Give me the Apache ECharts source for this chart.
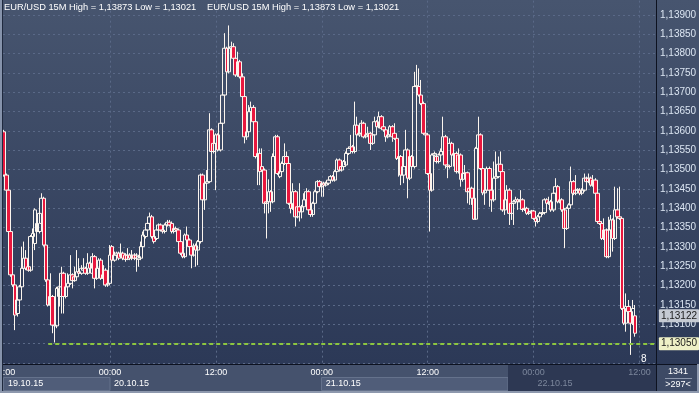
<!DOCTYPE html>
<html><head><meta charset="utf-8">
<script src="https://cdn.jsdelivr.net/npm/echarts@6/dist/echarts.min.js"></script>
<style>html,body{margin:0;padding:0;background:#2b3856;}#c{width:699px;height:393px;}</style>
</head><body><div id="c"></div>
<script>
// ---- data ----
const dayLabels = ['19.10.15','20.10.15','21.10.15','22.10.15'];
const startMinutes = 12 * 60;   // first bar: 19.10.15 12:00
const barMinutes = 15;
const slotCount = 296;          // visible bar slots
const headerText = 'EUR/USD 15M High = 1,13873 Low = 1,13021';
const levelPrice = 1.13050, levelStartIdx = 20;
const lastPrice = 1.13122;
const barCountText = '1341', visibleText = '>297<', shiftText = '8';

const openP = [
1.13598,1.13486,1.13447,1.13340,1.13228,1.13202,1.13128,1.13163,1.13197,1.13245,
1.13271,1.13249,1.13240,1.13327,1.13309,1.13340,1.13340,1.13361,1.13426,1.13305,
1.13215,1.13150,1.13172,1.13098,1.13096,1.13172,1.13172,1.13232,1.13172,1.13197,
1.13206,1.13228,1.13213,1.13223,1.13236,1.13232,1.13240,1.13245,1.13232,1.13258,
1.13232,1.13275,1.13219,1.13245,1.13266,1.13219,1.13240,1.13202,1.13206,1.13301,
1.13266,1.13279,1.13284,1.13275,1.13284,1.13279,1.13268,1.13279,1.13271,1.13279,
1.13271,1.13268,1.13271,1.13301,1.13327,1.13344,1.13361,1.13378,1.13327,1.13322,
1.13344,1.13357,1.13344,1.13340,1.13357,1.13364,1.13361,1.13340,1.13348,1.13344,
1.13314,1.13284,1.13275,1.13331,1.13318,1.13301,1.13279,1.13303,1.13292,1.13314,
1.13486,1.13422,1.13465,1.13469,1.13603,1.13547,1.13568,1.13590,1.13551,1.13620,
1.13693,1.13814,1.13753,1.13814,1.13818,1.13788,1.13745,1.13779,1.13740,1.13689,
1.13585,1.13598,1.13650,1.13661,1.13624,1.13534,1.13542,1.13508,1.13499,1.13413,
1.13417,1.13443,1.13417,1.13534,1.13585,1.13482,1.13495,1.13516,1.13534,1.13516,
1.13413,1.13400,1.13443,1.13378,1.13404,1.13391,1.13404,1.13422,1.13443,1.13396,
1.13384,1.13413,1.13443,1.13469,1.13456,1.13465,1.13460,1.13465,1.13473,1.13482,
1.13473,1.13495,1.13525,1.13499,1.13508,1.13512,1.13542,1.13555,1.13559,1.13547,
1.13615,1.13590,1.13594,1.13620,1.13585,1.13590,1.13594,1.13568,1.13590,1.13624,
1.13611,1.13637,1.13611,1.13603,1.13585,1.13590,1.13611,1.13594,1.13581,1.13529,
1.13534,1.13486,1.13508,1.13551,1.13478,1.13534,1.13508,1.13715,1.13715,1.13693,
1.13671,1.13594,1.13590,1.13490,1.13447,1.13538,1.13534,1.13521,1.13538,1.13547,
1.13585,1.13512,1.13508,1.13568,1.13538,1.13542,1.13495,1.13538,1.13475,1.13490,
1.13492,1.13443,1.13452,1.13426,1.13372,1.13555,1.13590,1.13503,1.13440,1.13447,
1.13503,1.13447,1.13422,1.13478,1.13482,1.13514,1.13495,1.13396,1.13422,1.13447,
1.13387,1.13413,1.13417,1.13422,1.13417,1.13422,1.13397,1.13400,1.13387,1.13391,
1.13393,1.13374,1.13366,1.13378,1.13387,1.13389,1.13422,1.13413,1.13417,1.13396,
1.13439,1.13456,1.13417,1.13422,1.13396,1.13348,1.13400,1.13409,1.13469,1.13439,
1.13447,1.13447,1.13439,1.13447,1.13478,1.13469,1.13478,1.13460,1.13473,1.13439,
1.13366,1.13361,1.13322,1.13344,1.13275,1.13344,1.13370,1.13322,1.13396,1.13378,
1.13374,1.13141,1.13103,1.13146,1.13133,1.13103,1.13122];

const closeP = [
1.13486,1.13447,1.13340,1.13228,1.13202,1.13124,1.13163,1.13197,1.13245,1.13271,
1.13245,1.13240,1.13327,1.13335,1.13396,1.13361,1.13387,1.13426,1.13305,1.13215,
1.13150,1.13172,1.13098,1.13096,1.13193,1.13197,1.13232,1.13172,1.13197,1.13206,
1.13228,1.13213,1.13223,1.13236,1.13232,1.13245,1.13245,1.13232,1.13258,1.13245,
1.13275,1.13219,1.13245,1.13266,1.13219,1.13228,1.13202,1.13206,1.13279,1.13266,
1.13279,1.13284,1.13271,1.13284,1.13271,1.13268,1.13279,1.13271,1.13279,1.13271,
1.13279,1.13275,1.13301,1.13331,1.13344,1.13361,1.13378,1.13327,1.13314,1.13344,
1.13357,1.13344,1.13340,1.13357,1.13364,1.13357,1.13340,1.13348,1.13344,1.13314,
1.13284,1.13275,1.13331,1.13318,1.13301,1.13279,1.13303,1.13292,1.13314,1.13486,
1.13422,1.13465,1.13469,1.13603,1.13547,1.13568,1.13590,1.13551,1.13620,1.13693,
1.13814,1.13753,1.13814,1.13818,1.13788,1.13745,1.13779,1.13740,1.13689,1.13585,
1.13598,1.13650,1.13661,1.13624,1.13534,1.13542,1.13495,1.13499,1.13413,1.13417,
1.13443,1.13417,1.13534,1.13585,1.13490,1.13495,1.13516,1.13534,1.13516,1.13413,
1.13400,1.13443,1.13378,1.13404,1.13391,1.13404,1.13422,1.13443,1.13396,1.13384,
1.13413,1.13443,1.13469,1.13456,1.13465,1.13460,1.13465,1.13473,1.13482,1.13473,
1.13495,1.13525,1.13499,1.13508,1.13521,1.13542,1.13555,1.13559,1.13547,1.13615,
1.13590,1.13594,1.13620,1.13585,1.13590,1.13594,1.13568,1.13590,1.13624,1.13611,
1.13637,1.13607,1.13603,1.13585,1.13590,1.13611,1.13585,1.13581,1.13529,1.13534,
1.13486,1.13508,1.13551,1.13478,1.13534,1.13508,1.13715,1.13717,1.13693,1.13671,
1.13594,1.13590,1.13490,1.13447,1.13538,1.13542,1.13521,1.13538,1.13547,1.13585,
1.13512,1.13508,1.13568,1.13538,1.13542,1.13495,1.13538,1.13475,1.13490,1.13492,
1.13443,1.13452,1.13426,1.13372,1.13555,1.13590,1.13503,1.13440,1.13447,1.13503,
1.13447,1.13422,1.13478,1.13482,1.13514,1.13495,1.13396,1.13422,1.13447,1.13387,
1.13413,1.13417,1.13422,1.13417,1.13422,1.13397,1.13400,1.13387,1.13391,1.13393,
1.13374,1.13366,1.13378,1.13387,1.13389,1.13422,1.13413,1.13417,1.13396,1.13439,
1.13456,1.13417,1.13422,1.13396,1.13348,1.13400,1.13409,1.13469,1.13439,1.13447,
1.13449,1.13439,1.13447,1.13478,1.13469,1.13478,1.13460,1.13473,1.13439,1.13366,
1.13361,1.13322,1.13344,1.13275,1.13344,1.13370,1.13322,1.13396,1.13378,1.13374,
1.13141,1.13103,1.13146,1.13133,1.13103,1.13141,1.13077];

const lowP = [
1.13482,1.13443,1.13335,1.13223,1.13197,1.13085,1.13120,1.13159,1.13193,1.13240,
1.13240,1.13236,1.13236,1.13284,1.13292,1.13318,1.13335,1.13357,1.13301,1.13210,
1.13146,1.13146,1.13077,1.13053,1.13090,1.13146,1.13128,1.13128,1.13167,1.13193,
1.13202,1.13193,1.13210,1.13219,1.13228,1.13228,1.13236,1.13228,1.13228,1.13240,
1.13228,1.13193,1.13215,1.13240,1.13215,1.13215,1.13197,1.13197,1.13202,1.13262,
1.13262,1.13275,1.13266,1.13271,1.13266,1.13262,1.13266,1.13266,1.13266,1.13266,
1.13236,1.13249,1.13266,1.13297,1.13322,1.13340,1.13357,1.13322,1.13309,1.13318,
1.13340,1.13340,1.13335,1.13335,1.13353,1.13353,1.13335,1.13335,1.13340,1.13309,
1.13279,1.13271,1.13271,1.13314,1.13297,1.13245,1.13275,1.13249,1.13253,1.13309,
1.13417,1.13396,1.13443,1.13465,1.13542,1.13542,1.13447,1.13547,1.13547,1.13615,
1.13689,1.13749,1.13749,1.13809,1.13784,1.13740,1.13740,1.13736,1.13684,1.13568,
1.13577,1.13594,1.13646,1.13620,1.13529,1.13460,1.13460,1.13495,1.13387,1.13322,
1.13387,1.13391,1.13413,1.13529,1.13486,1.13478,1.13490,1.13512,1.13512,1.13409,
1.13387,1.13396,1.13353,1.13374,1.13366,1.13374,1.13400,1.13417,1.13391,1.13378,
1.13378,1.13409,1.13439,1.13452,1.13430,1.13430,1.13456,1.13460,1.13469,1.13469,
1.13469,1.13490,1.13495,1.13495,1.13503,1.13508,1.13538,1.13551,1.13542,1.13542,
1.13585,1.13585,1.13590,1.13581,1.13581,1.13585,1.13551,1.13564,1.13585,1.13607,
1.13607,1.13603,1.13598,1.13572,1.13581,1.13585,1.13572,1.13577,1.13525,1.13482,
1.13460,1.13465,1.13503,1.13426,1.13473,1.13503,1.13503,1.13706,1.13689,1.13667,
1.13590,1.13551,1.13486,1.13340,1.13443,1.13534,1.13516,1.13516,1.13534,1.13542,
1.13503,1.13478,1.13503,1.13534,1.13508,1.13490,1.13490,1.13456,1.13469,1.13486,
1.13413,1.13409,1.13409,1.13370,1.13370,1.13551,1.13499,1.13434,1.13409,1.13443,
1.13404,1.13391,1.13417,1.13473,1.13478,1.13490,1.13391,1.13383,1.13417,1.13357,
1.13370,1.13357,1.13413,1.13396,1.13413,1.13391,1.13393,1.13383,1.13383,1.13387,
1.13370,1.13353,1.13361,1.13374,1.13383,1.13384,1.13409,1.13409,1.13391,1.13391,
1.13434,1.13413,1.13413,1.13391,1.13297,1.13344,1.13396,1.13404,1.13434,1.13434,
1.13443,1.13434,1.13434,1.13443,1.13465,1.13465,1.13456,1.13456,1.13434,1.13361,
1.13357,1.13318,1.13318,1.13271,1.13271,1.13340,1.13288,1.13318,1.13374,1.13370,
1.13137,1.13098,1.13081,1.13128,1.13021,1.13098,1.13068];

const highP = [
1.13603,1.13490,1.13452,1.13344,1.13236,1.13206,1.13167,1.13202,1.13301,1.13314,
1.13292,1.13258,1.13331,1.13348,1.13400,1.13378,1.13404,1.13439,1.13430,1.13309,
1.13223,1.13232,1.13176,1.13103,1.13197,1.13202,1.13249,1.13236,1.13202,1.13232,
1.13279,1.13232,1.13249,1.13292,1.13271,1.13253,1.13271,1.13249,1.13284,1.13262,
1.13284,1.13279,1.13249,1.13271,1.13271,1.13253,1.13245,1.13210,1.13305,1.13305,
1.13288,1.13288,1.13288,1.13309,1.13288,1.13284,1.13297,1.13284,1.13292,1.13284,
1.13284,1.13279,1.13314,1.13340,1.13348,1.13366,1.13389,1.13383,1.13331,1.13348,
1.13361,1.13361,1.13348,1.13361,1.13370,1.13370,1.13366,1.13357,1.13353,1.13348,
1.13318,1.13288,1.13335,1.13353,1.13322,1.13305,1.13309,1.13309,1.13318,1.13490,
1.13490,1.13469,1.13499,1.13646,1.13607,1.13572,1.13594,1.13594,1.13624,1.13697,
1.13853,1.13818,1.13873,1.13831,1.13827,1.13792,1.13805,1.13784,1.13749,1.13693,
1.13603,1.13667,1.13676,1.13667,1.13628,1.13547,1.13555,1.13555,1.13503,1.13422,
1.13475,1.13447,1.13542,1.13590,1.13590,1.13499,1.13521,1.13568,1.13547,1.13521,
1.13417,1.13465,1.13447,1.13409,1.13465,1.13409,1.13439,1.13452,1.13447,1.13400,
1.13417,1.13447,1.13473,1.13473,1.13469,1.13469,1.13469,1.13478,1.13486,1.13486,
1.13499,1.13529,1.13529,1.13512,1.13525,1.13547,1.13559,1.13590,1.13564,1.13676,
1.13637,1.13598,1.13628,1.13624,1.13594,1.13611,1.13598,1.13594,1.13637,1.13628,
1.13650,1.13641,1.13615,1.13607,1.13594,1.13615,1.13615,1.13620,1.13585,1.13538,
1.13538,1.13512,1.13603,1.13555,1.13538,1.13538,1.13753,1.13771,1.13762,1.13732,
1.13676,1.13598,1.13594,1.13495,1.13542,1.13547,1.13538,1.13542,1.13555,1.13637,
1.13590,1.13516,1.13581,1.13572,1.13547,1.13547,1.13555,1.13542,1.13534,1.13512,
1.13495,1.13456,1.13456,1.13430,1.13559,1.13637,1.13594,1.13508,1.13452,1.13508,
1.13508,1.13452,1.13521,1.13547,1.13534,1.13547,1.13499,1.13426,1.13460,1.13452,
1.13417,1.13422,1.13430,1.13426,1.13447,1.13426,1.13404,1.13404,1.13396,1.13396,
1.13396,1.13378,1.13383,1.13391,1.13393,1.13426,1.13426,1.13430,1.13422,1.13443,
1.13478,1.13460,1.13426,1.13426,1.13400,1.13404,1.13413,1.13508,1.13473,1.13486,
1.13452,1.13452,1.13452,1.13490,1.13482,1.13490,1.13482,1.13486,1.13478,1.13443,
1.13370,1.13366,1.13374,1.13348,1.13378,1.13383,1.13374,1.13456,1.13452,1.13456,
1.13378,1.13180,1.13180,1.13163,1.13137,1.13163,1.13150];

// ---- build ----
function pad(n){ return (n < 10 ? '0' : '') + n; }
const categories = [];
for (let i = 0; i < slotCount; i++) {
  const m = startMinutes + i * barMinutes;
  const d = Math.floor(m / 1440), t = m % 1440;
  categories.push(dayLabels[d] + ' ' + pad(Math.floor(t / 60)) + ':' + pad(t % 60));
}
const candles = openP.map((o, i) => [o, closeP[i], lowP[i], highP[i]]);
const fmt = v => v.toFixed(5).replace('.', ',');
const FONT = 'Liberation Sans';
const dimDay = dayLabels[3];

const chart = echarts.init(document.getElementById('c'), null, {renderer: 'canvas'});
chart.setOption({
  animation: false,
  backgroundColor: {type: 'linear', x: 0, y: 0, x2: 0, y2: 1, colorStops: [
    {offset: 0, color: '#47556f'}, {offset: 0.92, color: '#2c3957'}, {offset: 1, color: '#2c3957'}]},
  grid: {left: 3, right: 43, top: -4.333, bottom: 30, containLabel: false, outerBoundsMode: 'none'},
  xAxis: [{
    type: 'category', data: categories, boundaryGap: true,
    axisLine: {show: false}, axisTick: {show: false},
    axisLabel: {
      interval: (i) => i % 48 === 0,
      formatter: v => v.split(' ')[1],
      color: (v) => (v && v.indexOf(dimDay) === 0) ? '#7c879c' : '#ffffff',
      fontSize: 9, fontFamily: FONT, margin: 5
    },
    splitLine: {show: true, interval: (i) => i % 48 === 0 && i > 0, alignWithLabel: true,
      lineStyle: {color: '#5a6987', width: 1, type: [2, 3]}}
  }, {
    type: 'category', data: categories, boundaryGap: true, position: 'bottom', offset: 11,
    axisLine: {show: false}, axisTick: {show: false}, splitLine: {show: false},
    axisLabel: {
      interval: (i, v) => i === 0 || /00:00$/.test(v),
      formatter: v => v.split(' ')[0],
      color: (v) => (v && v.indexOf(dimDay) === 0) ? '#7c879c' : '#ffffff',
      align: 'left', padding: [0, 0, 0, 4], fontSize: 9, fontFamily: FONT, margin: 5
    }
  }],
  yAxis: {
    type: 'value', position: 'right', scale: true, min: 1.1300, max: 1.1395, interval: 0.0005,
    axisLine: {show: false}, axisTick: {show: false},
    axisLabel: {
      formatter: v => (v < 1.130499 || v > 1.139001) ? '' : fmt(v),
      color: '#dbe5f2', fontSize: 10, fontFamily: FONT, margin: 4
    },
    splitLine: {lineStyle: {color: '#5a6987', width: 1, type: [2, 3]}}
  },
  series: [{
    type: 'candlestick', xAxisIndex: 0, data: candles, barWidth: 4,
    itemStyle: {color: 'rgba(0,0,0,0)', color0: '#e8173e', borderColor: '#fbf5ee',
      borderColor0: '#fbf5ee', borderColorDoji: '#fbf5ee', borderWidth: 1},
    emphasis: {disabled: true}, silent: true,
    markLine: {
      silent: true, symbol: ['none', 'none'], animation: false,
      data: [
        [{coord: [levelStartIdx, levelPrice],
          lineStyle: {color: '#8cc63f', width: 2, type: [4, 3], opacity: 1},
          label: {show: true, position: 'end', distance: 4, formatter: fmt(levelPrice),
            backgroundColor: '#eef0c6', color: '#1b1b1b', padding: [2, 2, 1, 2],
            fontSize: 10, fontFamily: FONT, borderRadius: 1}},
         {coord: [slotCount - 1, levelPrice]}],
        [{coord: [0, lastPrice],
          lineStyle: {color: 'rgba(0,0,0,0)', width: 1, type: 'solid'},
          label: {show: true, position: 'end', distance: 4, formatter: fmt(lastPrice),
            backgroundColor: '#c5cad3', color: '#1b1b1b', padding: [2, 2, 1, 2],
            fontSize: 10, fontFamily: FONT, borderRadius: 1}},
         {coord: [slotCount - 1, lastPrice]}]
      ]
    }
  }],
  graphic: [
    // bottom time/date panel
    {type: 'rect', z: -1, shape: {x: 0, y: 364, width: 699, height: 29}, style: {fill: '#45526d'}},
    {type: 'rect', z: -1, shape: {x: 3.5, y: 377.5, width: 106.5, height: 13}, style: {fill: '#505d79', stroke: '#65728c', lineWidth: 1}},
    {type: 'rect', z: -1, shape: {x: 321.5, y: 377.5, width: 186.5, height: 13}, style: {fill: '#505d79', stroke: '#65728c', lineWidth: 1}},
    {type: 'rect', z: -1, shape: {x: 508, y: 365, width: 148, height: 26}, style: {fill: '#2d3853'}},
    {type: 'rect', z: -1, shape: {x: 657, y: 365, width: 42, height: 26}, style: {fill: '#3d4a65'}},
    // frame lines
    {type: 'line', z: 100, shape: {x1: 0, y1: 364.5, x2: 699, y2: 364.5}, style: {stroke: '#0d1220', lineWidth: 1}},
    {type: 'line', z: 100, shape: {x1: 656.5, y1: 0, x2: 656.5, y2: 393}, style: {stroke: '#0d1220', lineWidth: 1}},
    {type: 'rect', z: 100, shape: {x: 0, y: 0, width: 2, height: 393}, style: {fill: '#8693ab'}},
    {type: 'line', z: 100, shape: {x1: 2.5, y1: 0, x2: 2.5, y2: 393}, style: {stroke: '#1f293e', lineWidth: 1}},
    {type: 'rect', z: 100, shape: {x: 697, y: 364, width: 2, height: 29}, style: {fill: '#8d98ad'}},
    {type: 'rect', z: 100, shape: {x: 0, y: 391, width: 699, height: 2}, style: {fill: '#8d98ad'}},
    // header texts
    {type: 'text', z: 100, style: {x: 4, y: 3, text: headerText, fill: '#ffffff', fontSize: 9.3, fontFamily: FONT, verticalAlign: 'top'}},
    {type: 'text', z: 100, style: {x: 207, y: 3, text: headerText, fill: '#ffffff', fontSize: 9.3, fontFamily: FONT, verticalAlign: 'top'}},
    // shift marker
    {type: 'text', z: 100, style: {x: 641, y: 354, text: shiftText, fill: '#ffffff', fontSize: 10, fontFamily: FONT, verticalAlign: 'top'}},
    // corner counters
    {type: 'text', z: 100, style: {x: 678, y: 372, text: barCountText, fill: '#ffffff', fontSize: 9, fontFamily: FONT, align: 'center', verticalAlign: 'middle'}},
    {type: 'line', z: 100, shape: {x1: 665, y1: 378.5, x2: 692, y2: 378.5}, style: {stroke: '#8d98ad', lineWidth: 1}},
    {type: 'text', z: 100, style: {x: 678, y: 384.5, text: visibleText, fill: '#ffffff', fontSize: 9, fontFamily: FONT, align: 'center', verticalAlign: 'middle'}}
  ]
});
</script>
</body></html>
